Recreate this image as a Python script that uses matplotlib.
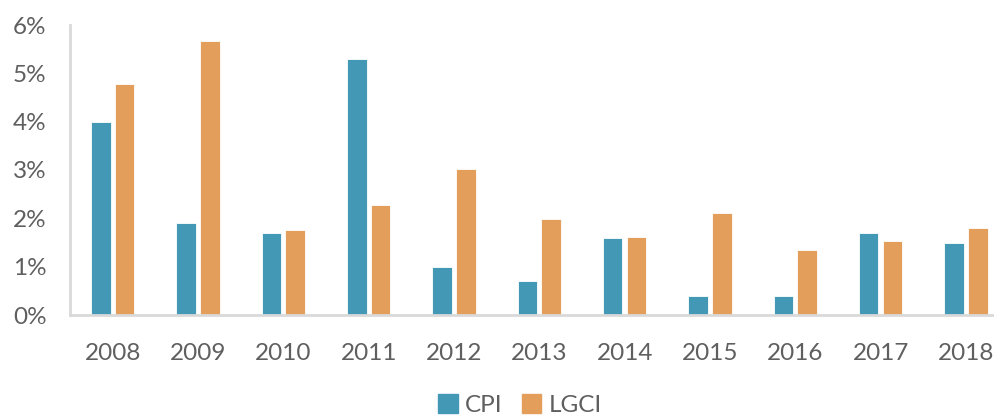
import matplotlib
matplotlib.use("Agg")
import matplotlib.pyplot as plt
import numpy as np
from matplotlib.patches import Patch

years = ["2008", "2009", "2010", "2011", "2012", "2013", "2014", "2015", "2016", "2017", "2018"]
cpi = [4.0, 1.9, 1.7, 5.3, 1.0, 0.7, 1.6, 0.4, 0.4, 1.7, 1.5]
lgci = [4.77, 5.67, 1.75, 2.28, 3.03, 1.98, 1.61, 2.12, 1.34, 1.53, 1.81]
yticks = [0, 1, 2, 3, 4, 5, 6]
ytick_labels = ["0%", "1%", "2%", "3%", "4%", "5%", "6%"]

plt.rcParams['font.family'] = ['Lato', 'DejaVu Sans']

CPI_COLOR = "#4398B5"
LGCI_COLOR = "#E49E5C"
TEXT = "#5F5F5F"
AXIS = "#D9D9D9"

fig = plt.figure(figsize=(9.95, 4.18), dpi=100)
ax = fig.add_axes([70 / 995, 103 / 418, 938.6 / 995, 290 / 418])

x = np.arange(len(years))
w = 0.23
ax.bar(x - 0.14, cpi, width=w, color=CPI_COLOR, edgecolor="white", linewidth=0.6, label="CPI", zorder=2)
ax.bar(x + 0.14, lgci, width=w, color=LGCI_COLOR, edgecolor="white", linewidth=0.6, label="LGCI", zorder=2)

ax.set_xlim(-0.5, len(years) - 0.5)
ax.set_ylim(0, 6)
ax.set_yticks(yticks)
ax.set_yticklabels(ytick_labels)
ax.set_xticks(x)
ax.set_xticklabels(years)
ax.tick_params(axis='both', length=0, labelsize=17.5, colors=TEXT)
ax.tick_params(axis='x', pad=20)
ax.tick_params(axis='y', pad=17)

for s in ["top", "right"]:
    ax.spines[s].set_visible(False)
for s in ["left", "bottom"]:
    ax.spines[s].set_color(AXIS)
    ax.spines[s].set_linewidth(2)
ax.spines["bottom"].set_zorder(3)

handles = [Patch(color=CPI_COLOR, label="CPI"), Patch(color=LGCI_COLOR, label="LGCI")]
fig.legend(handles=handles, loc="center", bbox_to_anchor=(520 / 995, 1 - 405 / 418), ncol=2,
           frameon=False, fontsize=17.5, labelcolor=TEXT, handlelength=0.8, handleheight=0.8,
           handletextpad=0.3, columnspacing=0.8)

fig.savefig("out.png", dpi=100)
